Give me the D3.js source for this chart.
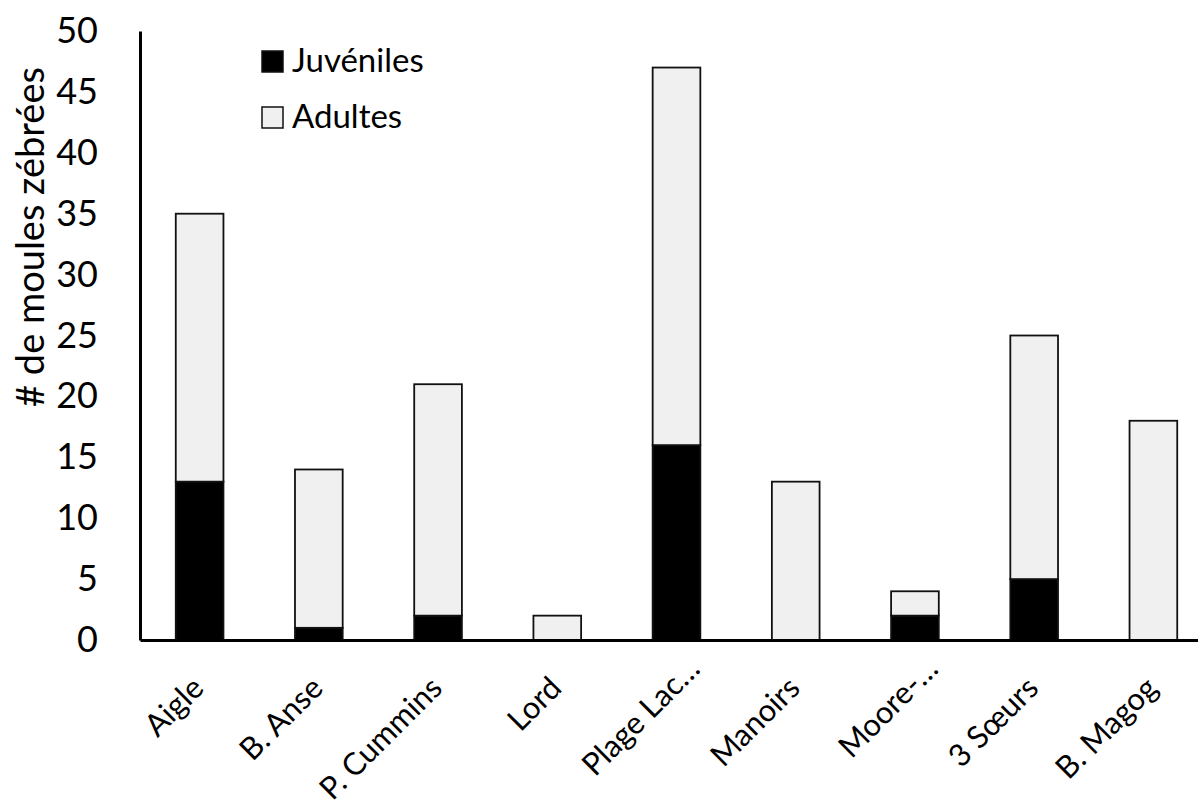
<!DOCTYPE html>
<html>
<head>
<meta charset="utf-8">
<script src="https://cdn.jsdelivr.net/npm/d3@7"></script>
<style>
  html, body { margin: 0; padding: 0; background: #fff; }
  svg { display: block; font-family: Lato, "Open Sans", sans-serif; }
</style>
</head>
<body>
<svg id="chart" width="1198" height="810"></svg>
<script>
// Sites and counts of zebra mussels per site
const sites = ["Aigle", "B. Anse", "P. Cummins", "Lord", "Plage Lac…", "Manoirs", "Moore-…", "3 Sœurs", "B. Magog"];
const juveniles = [13, 1, 2, 0, 16, 0, 2, 5, 0];
const adults = [22, 13, 19, 2, 31, 13, 2, 20, 18];
const yTicks = [0, 5, 10, 15, 20, 25, 30, 35, 40, 45, 50];
const seriesNames = ["Juvéniles", "Adultes"];
const seriesColors = ["#000000", "#f0f0f0"];

const svg = d3.select("#chart");
const plotLeft = 140, plotRight = 1213, plotTop = 31, plotBottom = 640;
const fontStack = "Lato, 'Open Sans', sans-serif";

const x = d3.scaleBand().domain(sites).range([plotLeft, plotRight]).padding(0);
const y = d3.scaleLinear().domain([0, 50]).range([plotBottom, plotTop]);
const barW = x.bandwidth() * 0.4;

const rows = sites.map((s, i) => ({ site: s, "Juvéniles": juveniles[i], "Adultes": adults[i] }));
const stacked = d3.stack().keys(seriesNames)(rows);

// Stacked bars
const g = svg.append("g");
stacked.forEach((layer, li) => {
  g.selectAll(null)
    .data(layer.filter(d => d[1] - d[0] > 0))
    .join("rect")
    .attr("x", d => x(d.data.site) + (x.bandwidth() - barW) / 2)
    .attr("y", d => y(d[1]))
    .attr("width", barW)
    .attr("height", d => y(d[0]) - y(d[1]))
    .attr("fill", seriesColors[li])
    .attr("stroke", "#111")
    .attr("stroke-width", 1.8);
});

// Y axis
const yAxis = d3.axisLeft(y).tickValues(yTicks).tickSize(0).tickPadding(42);
const ya = svg.append("g").attr("transform", `translate(${plotLeft},0)`).call(yAxis);
ya.select(".domain").attr("stroke", "#000").attr("stroke-width", 3);
ya.selectAll("text").attr("font-size", 36).attr("fill", "#000").attr("font-family", fontStack);

// X axis with rotated site names; truncated names sit further along their slant
const xAxis = d3.axisBottom(x).tickSize(0).tickPadding(0);
const xa = svg.append("g").attr("transform", `translate(0,${plotBottom})`).call(xAxis);
xa.select(".domain").attr("stroke", "#000").attr("stroke-width", 3);
xa.selectAll("text")
  .attr("font-size", 31)
  .attr("fill", "#000")
  .attr("font-family", fontStack)
  .attr("text-anchor", "end")
  .attr("dy", null)
  .attr("y", 0)
  .attr("dx", d => d.endsWith("…") ? 27 : 0)
  .attr("transform", "translate(6,50) rotate(-45)");

// Y axis title
svg.append("text")
  .attr("transform", "translate(44,237) rotate(-90)")
  .attr("text-anchor", "middle")
  .attr("font-size", 38)
  .attr("fill", "#000")
  .text("# de moules zébrées");

// Legend
const legend = svg.append("g");
seriesNames.forEach((name, i) => {
  const ly = 51 + i * 56;
  legend.append("rect")
    .attr("x", 262).attr("y", ly)
    .attr("width", 21).attr("height", 21)
    .attr("fill", seriesColors[i])
    .attr("stroke", "#111").attr("stroke-width", 1.5);
  legend.append("text")
    .attr("x", 292).attr("y", ly + 21)
    .attr("font-size", 33)
    .attr("fill", "#000")
    .text(name);
});
</script>
</body>
</html>
